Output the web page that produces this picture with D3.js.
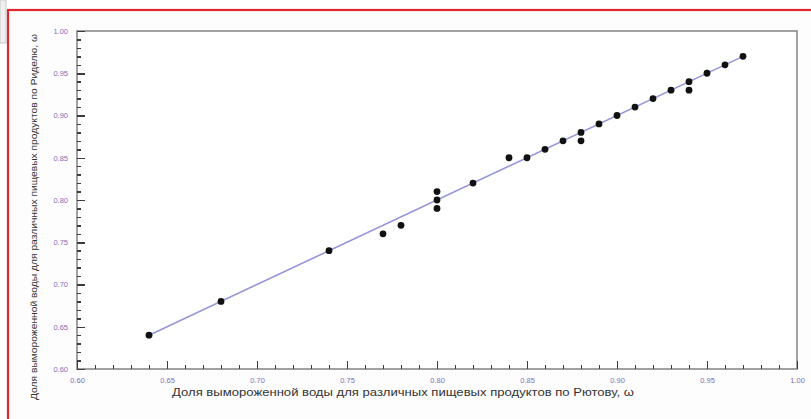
<!DOCTYPE html>
<html>
<head>
<meta charset="utf-8">
<script src="https://cdn.jsdelivr.net/npm/d3@7"></script>
<style>
    body { margin: 0; background: #ffffff; }
    svg { display: block; }
</style>
</head>
<body>
<svg id="chart" width="811" height="419"></svg>
<script>
"use strict"

// values
const pointsX = [0.64, 0.68, 0.74, 0.77, 0.78, 0.80, 0.80, 0.80, 0.82, 0.84, 0.85, 0.86, 0.87,
    0.88, 0.88, 0.89, 0.90, 0.91, 0.92, 0.93, 0.94, 0.94, 0.95, 0.96, 0.97];
const pointsY = [0.64, 0.68, 0.74, 0.76, 0.77, 0.79, 0.80, 0.81, 0.82, 0.85, 0.85, 0.86, 0.87,
    0.87, 0.88, 0.89, 0.90, 0.91, 0.92, 0.93, 0.93, 0.94, 0.95, 0.96, 0.97];
const fitX = [0.64, 0.97];
const fitY = [0.64, 0.97];
const majorTicks = [0.60, 0.65, 0.70, 0.75, 0.80, 0.85, 0.90, 0.95, 1.00];
const minorTicks = [0.61, 0.62, 0.63, 0.64, 0.66, 0.67, 0.68, 0.69, 0.71, 0.72, 0.73, 0.74,
    0.76, 0.77, 0.78, 0.79, 0.81, 0.82, 0.83, 0.84, 0.86, 0.87, 0.88, 0.89,
    0.91, 0.92, 0.93, 0.94, 0.96, 0.97, 0.98, 0.99];
const titleX = "Доля вымороженной воды для различных пищевых продуктов по Рютову,  ω";
const titleY = "Доля вымороженной воды для различных пищевых продуктов по Риделю, ω";

const svg = d3.select("#chart");
const margin = { left: 77, top: 31, right: 14, bottom: 50 };
const W = 811, H = 419;
const FONT = "Liberation Sans, Arial, sans-serif";

// outer frame
svg.append("rect").attr("x", 0).attr("y", 0).attr("width", 6).attr("height", 43)
    .attr("fill", "#f0f0f0").attr("stroke", "#c8c8c8");
svg.append("rect").attr("x", 8).attr("y", 10).attr("width", W + 10).attr("height", H + 10)
    .attr("fill", "#fdfdfd").attr("stroke", "#e0262e").attr("stroke-width", 2.2);

const x = d3.scaleLinear().domain([0.6, 1.0]).range([margin.left, W - margin.right]);
const y = d3.scaleLinear().domain([0.6, 1.0]).range([H - margin.bottom, margin.top]);

svg.append("rect")
    .attr("x", x(0.6)).attr("y", y(1.0))
    .attr("width", x(1.0) - x(0.6)).attr("height", y(0.6) - y(1.0))
    .attr("fill", "#ffffff").attr("stroke", "#8a8a8a").attr("stroke-width", 1.6);

function styleAxis(g) {
    g.select(".domain").remove();
    g.selectAll(".tick line").attr("stroke", "#3c3c3c").attr("stroke-width", 1.5)
        .attr("shape-rendering", "crispEdges");
    g.selectAll(".tick text").attr("fill", "#7f70ba")
        .style("font-family", FONT).style("font-size", "7.5px");
}

// minor ticks, pointing inward
svg.append("g").attr("transform", `translate(0,${y(0.6)})`)
    .call(d3.axisBottom(x).tickValues(minorTicks).tickSize(-4).tickFormat(""))
    .call(styleAxis);
svg.append("g").attr("transform", `translate(${x(0.6)},0)`)
    .call(d3.axisLeft(y).tickValues(minorTicks).tickSize(-4).tickFormat(""))
    .call(styleAxis);

// major ticks with labels
svg.append("g").attr("transform", `translate(0,${y(0.6)})`)
    .call(d3.axisBottom(x).tickValues(majorTicks).tickSize(-8).tickPadding(9).tickFormat(d3.format(".2f")))
    .call(styleAxis);
svg.append("g").attr("transform", `translate(${x(0.6)},0)`)
    .call(d3.axisLeft(y).tickValues(majorTicks).tickSize(-8).tickPadding(9).tickFormat(d3.format(".2f")))
    .call(styleAxis);

// fit line
svg.append("path")
    .datum(d3.zip(fitX, fitY))
    .attr("d", d3.line().x(d => x(d[0])).y(d => y(d[1])))
    .attr("fill", "none").attr("stroke", "#9595dc").attr("stroke-width", 1.6);

// points
svg.append("g").selectAll("circle")
    .data(d3.zip(pointsX, pointsY))
    .join("circle")
    .attr("cx", d => x(d[0])).attr("cy", d => y(d[1])).attr("r", 3.4)
    .attr("fill", "#111");

// titles
svg.append("text")
    .attr("x", 172).attr("y", 396)
    .attr("textLength", 462).attr("lengthAdjust", "spacingAndGlyphs")
    .attr("fill", "#333")
    .style("font-family", FONT).style("font-size", "10.5px")
    .text(titleX);

svg.append("text")
    .attr("transform", `translate(37,${400}) rotate(-90)`)
    .attr("textLength", 366).attr("lengthAdjust", "spacingAndGlyphs")
    .attr("fill", "#333")
    .style("font-family", FONT).style("font-size", "9px")
    .text(titleY);
</script>
</body>
</html>
